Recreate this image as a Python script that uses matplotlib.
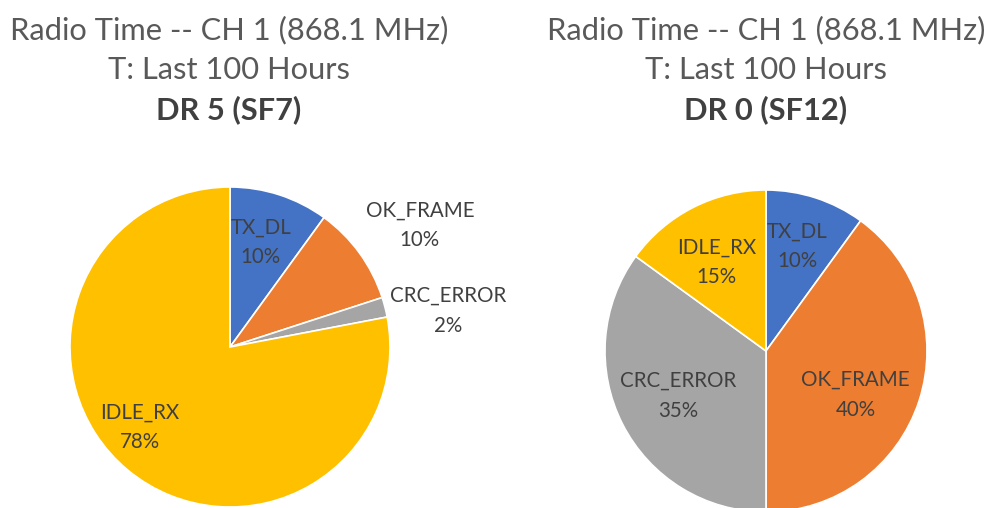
import numpy as np
import matplotlib.pyplot as plt

# slice data, clockwise from 12 o'clock
labels = ['TX_DL', 'OK_FRAME', 'CRC_ERROR', 'IDLE_RX']
dr5_values = [10, 10, 2, 78]
dr0_values = [10, 40, 35, 15]
subtitles = ['DR 5 (SF7)', 'DR 0 (SF12)']
title_lines = ['Radio Time -- CH 1 (868.1 MHz)', 'T: Last 100 Hours']

colors = ['#4472C4', '#ED7D31', '#A5A5A5', '#FFC000']
plt.rcParams['font.family'] = ['Lato', 'DejaVu Sans']

W, H = 989, 508
fig = plt.figure(figsize=(W / 100, H / 100), dpi=100)

def px_axes(cx, cy, r):
    # axes square around a pie centre given in pixels (y from top)
    return fig.add_axes([(cx - r) / W, (H - cy - r) / H, 2 * r / W, 2 * r / H])

def draw_pie(ax, values, label_r, label_shift):
    wedges, _ = ax.pie(values, colors=colors, startangle=90, counterclock=False,
                       radius=1, wedgeprops=dict(edgecolor='white', linewidth=1.2))
    # label_shift: degrees clockwise away from the wedge mid-angle
    for w, name, v, r, s in zip(wedges, labels, values, label_r, label_shift):
        ang = np.deg2rad((w.theta1 + w.theta2) / 2 - s)
        ax.text(r * np.cos(ang), r * np.sin(ang), f'{name}\n{v}%',
                ha='center', va='center', fontsize=14.8, color='#404040',
                linespacing=1.6)
    ax.set_xlim(-1, 1)
    ax.set_ylim(-1, 1)
    ax.axis('off')

ax1 = px_axes(230, 347, 160)
draw_pie(ax1, dr5_values, [0.68, 1.41, 1.38, 0.755], [-1.5, 3.3, 5, 8.6])

ax2 = px_axes(766, 351, 161)
draw_pie(ax2, dr0_values, [0.68, 0.62, 0.615, 0.63], [-1.5, 8, 0, -2])

for cx, sub in zip([229, 766], subtitles):
    fig.text(cx / W, 1 - 30 / H, title_lines[0], ha='center', va='center',
             fontsize=22.2, color='#595959')
    fig.text(cx / W, 1 - 70 / H, title_lines[1], ha='center', va='center',
             fontsize=22.2, color='#595959')
    fig.text(cx / W, 1 - 110 / H, sub, ha='center', va='center',
             fontsize=22.2, color='#404040', fontweight='bold')

fig.savefig('out.png', dpi=100)
